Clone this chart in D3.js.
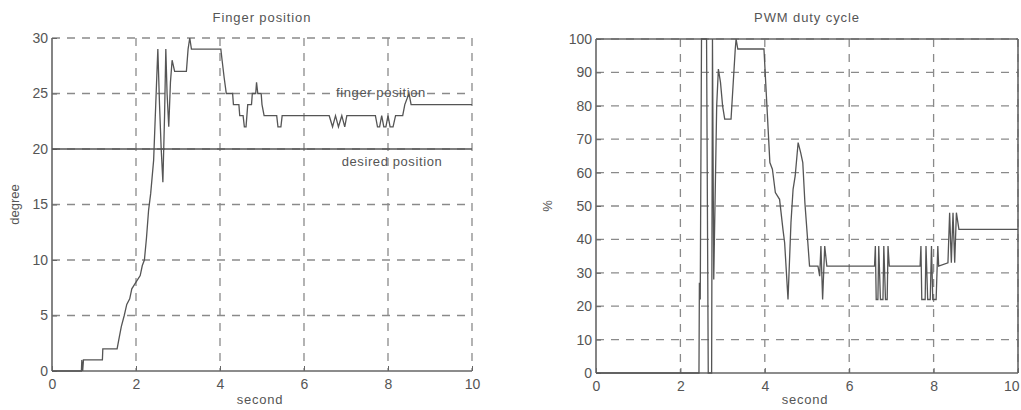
<!DOCTYPE html>
<html>
<head>
<meta charset="utf-8">
<script src="https://cdn.jsdelivr.net/npm/d3@7"></script>
<style>
  body { margin: 0; background: #fff; }
  text { font-family: "Liberation Sans", Arial, sans-serif; fill: #555; }
</style>
</head>
<body>
<div id="chart"></div>
<script>
// finger position (degree) vs time (second)
var fingerT = [0, 0.7, 0.71, 0.73, 0.75, 1.2, 1.21, 1.55, 1.6, 1.65, 1.72, 1.78, 1.85, 1.9, 2.0, 2.1, 2.15, 2.2, 2.25, 2.3, 2.35, 2.42, 2.47, 2.52, 2.56, 2.6, 2.64, 2.68, 2.71, 2.74, 2.78, 2.82, 2.86, 2.92, 3.2, 3.24, 3.28, 3.32, 4.02, 4.05, 4.1, 4.15, 4.3, 4.32, 4.45, 4.47, 4.55, 4.58, 4.62, 4.66, 4.75, 4.77, 4.85, 4.87, 4.9, 4.98, 5.0, 5.05, 5.35, 5.38, 5.45, 5.48, 6.6, 6.68, 6.75, 6.82, 6.9, 6.97, 7.02, 7.7, 7.75, 7.8, 7.85, 7.9, 7.95, 8.0, 8.05, 8.12, 8.18, 8.35, 8.4, 8.5, 8.55, 8.65, 8.7, 10];
var fingerV = [0, 0, 1, 0, 1, 1, 2, 2, 3, 4, 5, 6, 6.5, 7.4, 8, 8.6, 9.5, 10, 12, 14.5, 16, 19, 24, 29, 24, 20, 17, 23, 29, 25, 22, 26, 28, 27, 27, 29, 30, 29, 29, 28, 26.4, 25, 25, 24, 24, 23, 23, 22, 22, 24, 24, 25, 25, 26, 25, 25, 24, 23, 23, 22, 22, 23, 23, 22, 23, 22, 23, 22, 23, 23, 22, 22, 23, 22, 22, 23, 22, 22, 23, 23, 24, 25, 24, 24, 24, 24];
var desiredPos = 20;

// PWM duty cycle (%) vs time (second)
var pwmT = [0, 2.44, 2.45, 2.47, 2.5, 2.62, 2.66, 2.74, 2.76, 2.79, 2.86, 2.9, 2.95, 3.0, 3.05, 3.2, 3.3, 3.32, 3.36, 3.98, 4.05, 4.12, 4.18, 4.25, 4.35, 4.43, 4.47, 4.55, 4.62, 4.67, 4.72, 4.79, 4.85, 4.9, 4.95, 5.02, 5.06, 5.26, 5.3, 5.33, 5.37, 5.42, 5.47, 6.6, 6.62, 6.64, 6.68, 6.7, 6.74, 6.8, 6.82, 6.86, 6.9, 6.92, 6.95, 7.68, 7.7, 7.72, 7.8, 7.82, 7.86, 7.92, 7.95, 7.98, 8.06, 8.1, 8.12, 8.34, 8.38, 8.42, 8.46, 8.5, 8.54, 8.6, 10];
var pwmV = [0, 0, 27, 22, 100, 100, 0, 0, 100, 28, 80, 91, 87, 80, 76, 76, 97, 100, 97, 97, 80, 63, 61, 54, 52, 43, 39, 22, 45, 55, 59, 69, 66, 63, 51, 39, 32, 32, 29, 38, 22, 38, 32, 32, 38, 22, 22, 38, 22, 22, 38, 22, 22, 38, 32, 32, 38, 22, 22, 38, 22, 22, 38, 22, 22, 38, 32, 33, 48, 33, 48, 33, 48, 43, 43];

var xTicks = [0, 2, 4, 6, 8, 10];
var fingerTicks = [0, 5, 10, 15, 20, 25, 30];
var pwmTicks = [0, 10, 20, 30, 40, 50, 60, 70, 80, 90, 100];

var width = 1021, height = 410;
var lineColor = "#555", gridColor = "#8a8a8a";

var svg = d3.select("#chart").append("svg")
    .attr("width", width)
    .attr("height", height);

svg.append("rect").attr("width", width).attr("height", height).attr("fill", "white");

function drawPanel(opts) {
    var x = d3.scaleLinear().domain([0, 10]).range([opts.left, opts.right]);
    var y = d3.scaleLinear().domain([0, opts.ymax]).range([opts.bottom, opts.top]);
    var g = svg.append("g");

    // dashed grid
    g.selectAll(".vg").data(xTicks.slice(1)).enter().append("line")
        .attr("x1", d => x(d)).attr("x2", d => x(d))
        .attr("y1", opts.top).attr("y2", opts.bottom)
        .attr("stroke", gridColor).attr("stroke-width", 1.3)
        .attr("stroke-dasharray", "8,7");
    g.selectAll(".hg").data(opts.yTicks.slice(1)).enter().append("line")
        .attr("x1", opts.left).attr("x2", opts.right)
        .attr("y1", d => y(d)).attr("y2", d => y(d))
        .attr("stroke", gridColor).attr("stroke-width", 1.3)
        .attr("stroke-dasharray", "8,7");

    // axes
    var xAxis = d3.axisBottom(x).tickValues(xTicks).tickSize(-5).tickPadding(8);
    var yAxis = d3.axisLeft(y).tickValues(opts.yTicks).tickSize(-5).tickPadding(4);
    var ga = g.append("g").attr("transform", "translate(0," + opts.bottom + ")").call(xAxis);
    var gb = g.append("g").attr("transform", "translate(" + opts.left + ",0)").call(yAxis);
    [ga, gb].forEach(function(a) {
        a.select(".domain").attr("stroke", "#666").attr("stroke-width", 1.6);
        a.selectAll(".tick line").attr("stroke", "#666");
        a.selectAll("text").style("font-size", "14px").attr("fill", "#555");
    });
    ga.select(".domain").attr("d", "M" + opts.left + ",0H" + opts.right);
    gb.select(".domain").attr("d", "M0," + opts.bottom + "V" + opts.top);
    // keep the last x label inside the window
    if (opts.right > width - 10) {
        ga.selectAll(".tick text").filter(d => d === 10).attr("text-anchor", "end").attr("dx", "1");
    }

    if (opts.box) {
        g.append("line").attr("x1", opts.left).attr("x2", opts.right)
            .attr("y1", opts.top).attr("y2", opts.top)
            .attr("stroke", "#666").attr("stroke-width", 1.6);
        g.append("line").attr("x1", opts.right).attr("x2", opts.right)
            .attr("y1", opts.top).attr("y2", opts.bottom)
            .attr("stroke", "#666").attr("stroke-width", 1.6);
    }

    var line = d3.line().x(d => x(d[0])).y(d => y(d[1]));
    opts.series.forEach(function(s) {
        g.append("path").datum(d3.zip(s.t, s.v))
            .attr("d", line)
            .attr("fill", "none")
            .attr("stroke", lineColor)
            .attr("stroke-width", 1.3);
    });

    // title and labels
    g.append("text").attr("x", (opts.left + opts.right) / 2).attr("y", 22)
        .attr("text-anchor", "middle").style("font-size", "13px")
        .style("letter-spacing", "0.9px").text(opts.title);
    g.append("text").attr("x", (opts.left + opts.right) / 2 - 2).attr("y", 404)
        .attr("text-anchor", "middle").style("font-size", "13px")
        .style("letter-spacing", "0.8px").text("second");
    g.append("text")
        .attr("transform", "translate(" + opts.ylabX + "," + ((opts.top + opts.bottom) / 2) + ") rotate(-90)")
        .attr("text-anchor", "middle").style("font-size", "13px")
        .text(opts.ylabel);
    return {x: x, y: y, g: g};
}

var p1 = drawPanel({
    left: 52, right: 472, top: 38, bottom: 371, ymax: 30,
    yTicks: fingerTicks, box: false,
    title: "Finger position", ylabel: "degree", ylabX: 19,
    series: [
        {t: fingerT, v: fingerV},
        {t: [0, 10], v: [desiredPos, desiredPos]}
    ]
});

p1.g.append("text").attr("x", 381).attr("y", 97).attr("text-anchor", "middle")
    .style("font-size", "13px").style("letter-spacing", "0.6px").text("finger position");
p1.g.append("text").attr("x", 392).attr("y", 166).attr("text-anchor", "middle")
    .style("font-size", "13px").style("letter-spacing", "0.6px").text("desired position");

drawPanel({
    left: 596, right: 1018, top: 39, bottom: 373, ymax: 100,
    yTicks: pwmTicks, box: true,
    title: "PWM duty cycle", ylabel: "%", ylabX: 552,
    series: [{t: pwmT, v: pwmV}]
});
</script>
</body>
</html>
